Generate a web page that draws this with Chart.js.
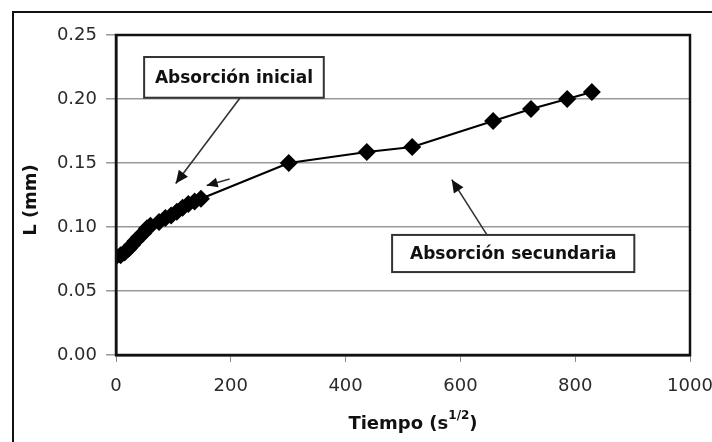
<!DOCTYPE html>
<html>
<head>
<meta charset="utf-8">
<script src="https://cdn.jsdelivr.net/npm/chart.js@4/dist/chart.umd.min.js"></script>
<style>
  html, body { margin: 0; padding: 0; background: #fff; }
  #wrap { width: 712px; height: 442px; position: relative; }
</style>
</head>
<body>
<div id="wrap"><canvas id="c" width="712" height="442"></canvas></div>
<script>
// Tiempo (s^1/2)
const tiempo = [0, 8, 15, 22, 28, 34, 40, 47, 54, 60, 75, 86, 96, 106, 116, 126, 137, 148, 301, 437, 516, 657, 723, 786, 829];
// L (mm)
const longitud = [0.077, 0.078, 0.080, 0.083, 0.086, 0.089, 0.092, 0.095, 0.099, 0.101, 0.104, 0.107, 0.109, 0.112, 0.115, 0.118, 0.120, 0.122, 0.150, 0.1586, 0.1625, 0.1828, 0.1922, 0.2000, 0.2055];
const yTicks = [0, 0.05, 0.10, 0.15, 0.20, 0.25];
const xTicks = [0, 200, 400, 600, 800, 1000];
const yTitle = 'L (mm)';
const xTitle = 'Tiempo (s';
const xTitleSup = '1/2';
const labelInicial = 'Absorción inicial';
const labelSecundaria = 'Absorción secundaria';

const points = tiempo.map((t, i) => ({ x: t, y: longitud[i] }));
const FONT = '"DejaVu Sans", "Liberation Sans", Arial, sans-serif';

const overlay = {
  id: 'overlay',
  afterDraw(chart) {
    const ctx = chart.ctx;
    const xs = chart.scales.x, ys = chart.scales.y;
    const a = chart.chartArea;
    ctx.save();
    // outer frame
    ctx.strokeStyle = '#111';
    ctx.lineWidth = 2;
    ctx.beginPath();
    ctx.moveTo(13, 442); ctx.lineTo(13, 12); ctx.lineTo(712, 12);
    ctx.stroke();
    // plot border
    ctx.lineWidth = 2.5;
    ctx.strokeStyle = '#111';
    ctx.strokeRect(a.left, a.top, a.right - a.left, a.bottom - a.top);

    function arrow(x1, y1, x2, y2, head) {
      const px1 = xs.getPixelForValue(x1), py1 = ys.getPixelForValue(y1);
      const px2 = xs.getPixelForValue(x2), py2 = ys.getPixelForValue(y2);
      ctx.strokeStyle = '#333';
      ctx.fillStyle = '#111';
      ctx.lineWidth = 1.6;
      ctx.beginPath(); ctx.moveTo(px1, py1); ctx.lineTo(px2, py2); ctx.stroke();
      const ang = Math.atan2(py2 - py1, px2 - px1);
      const h = head || 13, w = 0.42;
      ctx.beginPath();
      ctx.moveTo(px2, py2);
      ctx.lineTo(px2 - h * Math.cos(ang - w), py2 - h * Math.sin(ang - w));
      ctx.lineTo(px2 - h * Math.cos(ang + w), py2 - h * Math.sin(ang + w));
      ctx.closePath(); ctx.fill();
    }
    arrow(216, 0.2008, 104, 0.134, 14);
    arrow(646, 0.094, 585, 0.137, 14);
    arrow(198, 0.1375, 158, 0.1325, 12);

    function box(x1, y1, x2, y2, text) {
      const l = xs.getPixelForValue(x1), t = ys.getPixelForValue(y1);
      const r = xs.getPixelForValue(x2), b = ys.getPixelForValue(y2);
      ctx.fillStyle = '#fff';
      ctx.fillRect(l, t, r - l, b - t);
      ctx.strokeStyle = '#333';
      ctx.lineWidth = 2;
      ctx.strokeRect(l, t, r - l, b - t);
      ctx.fillStyle = '#111';
      ctx.font = 'bold 17px ' + FONT;
      ctx.textAlign = 'center'; ctx.textBaseline = 'middle';
      ctx.fillText(text, (l + r) / 2, (t + b) / 2 + 1);
    }
    box(49, 0.2328, 362, 0.2010, labelInicial);
    box(481, 0.0938, 903, 0.0648, labelSecundaria);

    // axis titles
    ctx.fillStyle = '#111';
    const big = 'bold 18px ' + FONT, small = 'bold 12px ' + FONT;
    ctx.textBaseline = 'middle';
    ctx.textAlign = 'left';
    ctx.font = big;
    const w1 = ctx.measureText(xTitle).width;
    ctx.font = small;
    const w2 = ctx.measureText(xTitleSup).width;
    ctx.font = big;
    const w3 = ctx.measureText(')').width;
    const total = w1 + w2 + w3;
    let x0 = 413 - total / 2;
    const yT = 424;
    ctx.fillText(xTitle, x0, yT);
    ctx.font = small;
    ctx.fillText(xTitleSup, x0 + w1, yT - 8);
    ctx.font = big;
    ctx.fillText(')', x0 + w1 + w2, yT);

    ctx.translate(31, 200);
    ctx.rotate(-Math.PI / 2);
    ctx.textAlign = 'center';
    ctx.font = big;
    ctx.fillText(yTitle, 0, 0);
    ctx.restore();
  }
};

new Chart(document.getElementById('c'), {
  type: 'scatter',
  data: {
    datasets: [{
      data: points,
      showLine: true,
      borderColor: '#000',
      borderWidth: 2.2,
      backgroundColor: '#000',
      pointStyle: 'rectRot',
      pointRadius: 9,
      pointHoverRadius: 9,
      pointBorderWidth: 0
    }]
  },
  options: {
    responsive: false,
    animation: false,
    devicePixelRatio: 1,
    layout: { padding: { left: 0, top: 35, right: 22, bottom: 0 } },
    plugins: { legend: { display: false }, tooltip: { enabled: false } },
    scales: {
      x: {
        type: 'linear', min: 0, max: 1000,
        afterFit(s) { s.height = 87; s.paddingRight = 0; s.paddingLeft = 0; },
        afterBuildTicks(s) { s.ticks = xTicks.map(v => ({ value: v })); },
        grid: { display: true, drawOnChartArea: false, drawTicks: true, tickLength: 7, color: '#888', lineWidth: 1 },
        border: { display: true, color: '#111', width: 2.5 },
        ticks: { padding: 14, color: '#2a2a2a', font: { family: FONT, size: 18 }, callback: v => String(v) }
      },
      y: {
        type: 'linear', min: 0, max: 0.25,
        afterFit(s) { s.width = 116; s.paddingTop = 0; s.paddingBottom = 0; },
        afterBuildTicks(s) { s.ticks = yTicks.map(v => ({ value: v })); },
        grid: { display: true, drawOnChartArea: true, drawTicks: true, tickLength: 10, color: '#999', lineWidth: 1.5 },
        border: { display: true, color: '#111', width: 2.5 },
        ticks: { padding: 9, color: '#2a2a2a', font: { family: FONT, size: 18 }, callback: v => v.toFixed(2) }
      }
    }
  },
  plugins: [overlay]
});
</script>
</body>
</html>
